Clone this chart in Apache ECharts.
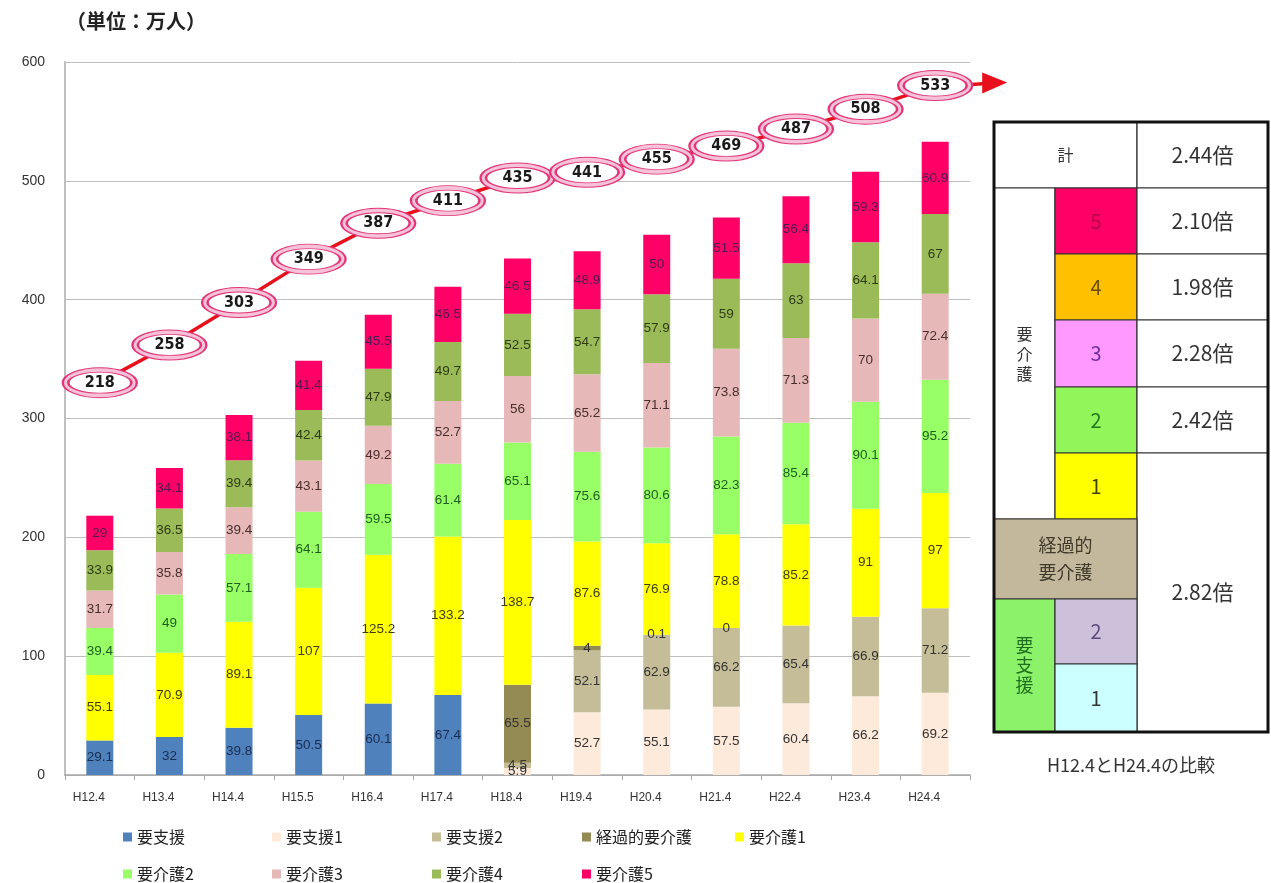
<!DOCTYPE html>
<html>
<head>
<meta charset="utf-8">
<script src="https://cdn.jsdelivr.net/npm/echarts@6/dist/echarts.min.js"></script>
<style>
  html, body { margin: 0; padding: 0; background: #fff; }
  #chart { width: 1271px; height: 883px; }
</style>
</head>
<body>
<div id="chart"></div>
<script>
// 要介護（要支援）認定者数の推移  単位: 万人
const years = ['H12.4', 'H13.4', 'H14.4', 'H15.5', 'H16.4', 'H17.4', 'H18.4',
  'H19.4', 'H20.4', 'H21.4', 'H22.4', 'H23.4', 'H24.4'];

const youShien = [29.1, 32, 39.8, 50.5, 60.1, 67.4, null, null, null, null, null, null, null];
const youShien1 = [null, null, null, null, null, null, 5.9, 52.7, 55.1, 57.5, 60.4, 66.2, 69.2];
const youShien2 = [null, null, null, null, null, null, 4.5, 52.1, 62.9, 66.2, 65.4, 66.9, 71.2];
const keika = [null, null, null, null, null, null, 65.5, 4, 0.1, 0, null, null, null];
const kaigo1 = [55.1, 70.9, 89.1, 107, 125.2, 133.2, 138.7, 87.6, 76.9, 78.8, 85.2, 91, 97];
const kaigo2 = [39.4, 49, 57.1, 64.1, 59.5, 61.4, 65.1, 75.6, 80.6, 82.3, 85.4, 90.1, 95.2];
const kaigo3 = [31.7, 35.8, 39.4, 43.1, 49.2, 52.7, 56, 65.2, 71.1, 73.8, 71.3, 70, 72.4];
const kaigo4 = [33.9, 36.5, 39.4, 42.4, 47.9, 49.7, 52.5, 54.7, 57.9, 59, 63, 64.1, 67];
const kaigo5 = [29, 34.1, 38.1, 41.4, 45.5, 46.5, 46.5, 48.9, 50, 51.5, 56.4, 59.3, 60.9];
const totals = [218, 258, 303, 349, 387, 411, 435, 441, 455, 469, 487, 508, 533];

const yTicks = [0, 100, 200, 300, 400, 500, 600];

// H12.4 と H24.4 の比較
const ratioTotal = '2.44倍';
const ratioKaigo = ['2.10倍', '1.98倍', '2.28倍', '2.42倍'];
const ratioShien = '2.82倍';

const stackSeries = [
  { name: '要支援', data: youShien, color: '#4F81BD', text: '#1A2E52' },
  { name: '要支援1', data: youShien1, color: '#FDEADA', text: '#333' },
  { name: '要支援2', data: youShien2, color: '#C4BD97', text: '#333' },
  { name: '経過的要介護', data: keika, color: '#948A54', text: '#333' },
  { name: '要介護1', data: kaigo1, color: '#FFFF00', text: '#3D3D14' },
  { name: '要介護2', data: kaigo2, color: '#99FF66', text: '#1F5E1F' },
  { name: '要介護3', data: kaigo3, color: '#E6B9B8', text: '#4A2E2E' },
  { name: '要介護4', data: kaigo4, color: '#9BBB59', text: '#2E3C14' },
  { name: '要介護5', data: kaigo5, color: '#FF0066', text: '#4A1A50' }
];

const JP = '"Noto Sans CJK JP", "Liberation Sans", sans-serif';
const NUM = '"Liberation Sans", "Noto Sans CJK JP", sans-serif';
const ellipse = 'path://M50,0 C77.6,0 100,22.4 100,50 C100,77.6 77.6,100 50,100 C22.4,100 0,77.6 0,50 C0,22.4 22.4,0 50,0 Z';

const series = stackSeries.map(s => ({
  name: s.name,
  type: 'bar',
  stack: 'all',
  barWidth: 27,
  data: s.data,
  itemStyle: { color: s.color },
  label: {
    show: true,
    position: 'inside',
    color: s.text,
    fontFamily: NUM,
    fontSize: 13.5,
    formatter: p => (p.value == null ? '' : String(p.value))
  }
}));

// 合計（楕円の吹き出し）: 別の非表示の軸に載せる
series.push({
  name: '計',
  type: 'line',
  yAxisIndex: 1,
  data: totals,
  symbol: ellipse,
  symbolSize: [74, 30],
  itemStyle: { color: '#F6C2D8', borderColor: '#E2367A', borderWidth: 1.5 },
  lineStyle: { color: '#E8101C', width: 3.5 },
  z: 5
});
series.push({
  name: '計ラベル',
  type: 'line',
  yAxisIndex: 1,
  data: totals,
  symbol: ellipse,
  symbolSize: [63, 21],
  itemStyle: { color: '#fff', borderColor: '#E2367A', borderWidth: 1.5 },
  lineStyle: { width: 0, opacity: 0 },
  label: {
    show: true,
    position: 'inside',
    color: '#1a1a1a',
    fontFamily: '"DejaVu Sans Condensed", "DejaVu Sans", sans-serif',
    fontWeight: 'bold',
    fontSize: 16
  },
  z: 6
});

function cell(x, y, w, h, fill, text, textColor, fontSize, vertical) {
  const els = [{
    type: 'rect',
    shape: { x: x, y: y, width: w, height: h },
    style: { fill: fill, stroke: '#333', lineWidth: 1.2 }
  }];
  if (text) {
    els.push({
      type: 'text',
      x: x + w / 2,
      y: y + h / 2,
      style: {
        text: vertical ? text.split('').join('\n') : text,
        fill: textColor,
        font: (fontSize || 20) + 'px ' + JP,
        align: 'center',
        verticalAlign: 'middle',
        lineHeight: vertical ? 20 : (fontSize || 20) * 1.5
      }
    });
  }
  return els;
}

const X0 = 994, X1 = 1055, X2 = 1137, X3 = 1268;
const rowY = [122, 188, 254, 320, 387, 453, 519, 599, 664, 732];
const kaigoCells = [
  ['5', '#FF0066', '#B0004A'],
  ['4', '#FFC000', '#6B5000'],
  ['3', '#FF99FF', '#7030A0'],
  ['2', '#92F55A', '#1E7A1E'],
  ['1', '#FFFF00', '#404000']
];

let table = [];
table = table.concat(cell(X0, rowY[0], X2 - X0, rowY[1] - rowY[0], '#fff', '計', '#333', 16));
table = table.concat(cell(X2, rowY[0], X3 - X2, rowY[1] - rowY[0], '#fff', ratioTotal, '#333', 21));
table = table.concat(cell(X0, rowY[1], X1 - X0, rowY[6] - rowY[1], '#fff', '要介護', '#333', 16, true));
kaigoCells.forEach((c, i) => {
  table = table.concat(cell(X1, rowY[1 + i], X2 - X1, rowY[2 + i] - rowY[1 + i], c[1], c[0], c[2], 20));
  if (i < 4) {
    table = table.concat(cell(X2, rowY[1 + i], X3 - X2, rowY[2 + i] - rowY[1 + i], '#fff', ratioKaigo[i], '#333', 21));
  }
});
table = table.concat(cell(X2, rowY[5], X3 - X2, rowY[9] - rowY[5], '#fff', ratioShien, '#333', 21));
table = table.concat(cell(X0, rowY[6], X2 - X0, rowY[7] - rowY[6], '#C4B89C', '経過的\n要介護', '#3F3A2A', 18));
table = table.concat(cell(X0, rowY[7], X1 - X0, rowY[9] - rowY[7], '#8CF26A', '要支援', '#1E6E1E', 18, true));
table = table.concat(cell(X1, rowY[7], X2 - X1, rowY[8] - rowY[7], '#CCC0DA', '2', '#5F497A', 20));
table = table.concat(cell(X1, rowY[8], X2 - X1, rowY[9] - rowY[8], '#CCFFFF', '1', '#333', 20));
table.push({
  type: 'rect',
  shape: { x: X0, y: rowY[0], width: X3 - X0, height: rowY[9] - rowY[0] },
  style: { fill: 'none', stroke: '#111', lineWidth: 3 }
});
table.push({
  type: 'text',
  x: (X0 + X3) / 2,
  y: 765,
  style: {
    text: 'H12.4とH24.4の比較',
    fill: '#333',
    font: '18px ' + JP,
    align: 'center',
    verticalAlign: 'middle'
  }
});
table.push({
  type: 'text',
  left: 66,
  top: 11,
  style: { text: '（単位：万人）', fill: '#222', font: 'bold 20px ' + JP }
});

// 凡例: 2 段, 各項目を列に揃える
const legendCols = [118, 267, 427, 577, 730];
const legends = stackSeries.map((s, i) => ({
  data: [s.name],
  left: legendCols[i % 5],
  top: i < 5 ? 824 : 861,
  itemWidth: 9,
  itemHeight: 9,
  itemGap: 4,
  icon: 'rect',
  selectedMode: false,
  textStyle: { fontFamily: JP, fontSize: 16, color: '#222' }
}));

const option = {
  backgroundColor: '#fff',
  animation: false,
  grid: { left: 65, right: 301, top: 62, bottom: 108 },
  legend: legends,
  xAxis: {
    type: 'category',
    data: years,
    axisLine: { lineStyle: { color: '#A6A6A6', width: 1.5 } },
    axisTick: { show: true, length: 5, lineStyle: { color: '#A6A6A6' } },
    axisLabel: {
      color: '#333', fontFamily: NUM, fontSize: 12, margin: 17,
      padding: [0, 22, 0, 0]
    }
  },
  yAxis: [
    {
      type: 'value',
      min: yTicks[0],
      max: yTicks[yTicks.length - 1],
      interval: yTicks[1] - yTicks[0],
      axisLine: { show: true, lineStyle: { color: '#BFBFBF', width: 2 } },
      axisTick: { show: false },
      splitLine: { lineStyle: { color: '#BFBFBF', width: 1 } },
      axisLabel: { color: '#333', fontFamily: NUM, fontSize: 14, margin: 20 }
    },
    {
      type: 'value',
      min: -198,
      max: 558,
      show: false,
      splitLine: { show: false }
    }
  ],
  series: series,
  graphic: table
};

const chart = echarts.init(document.getElementById('chart'));
chart.setOption(option);

// 右向きの矢印（最後の点から伸ばす）
const last = totals.length - 1;
const p = chart.convertToPixel({ seriesIndex: stackSeries.length }, [last, totals[last]]);
chart.setOption({
  graphic: table.concat([
    {
      type: 'line',
      shape: { x1: p[0] + 37, y1: p[1] - 1, x2: p[0] + 50, y2: p[1] - 2 },
      style: { stroke: '#E8101C', lineWidth: 3.5 },
      z: 4
    },
    {
      type: 'polygon',
      shape: { points: [[p[0] + 47, p[1] - 13], [p[0] + 72, p[1] - 3], [p[0] + 47, p[1] + 8]] },
      style: { fill: '#E8101C' },
      z: 4
    }
  ])
});
</script>
</body>
</html>
